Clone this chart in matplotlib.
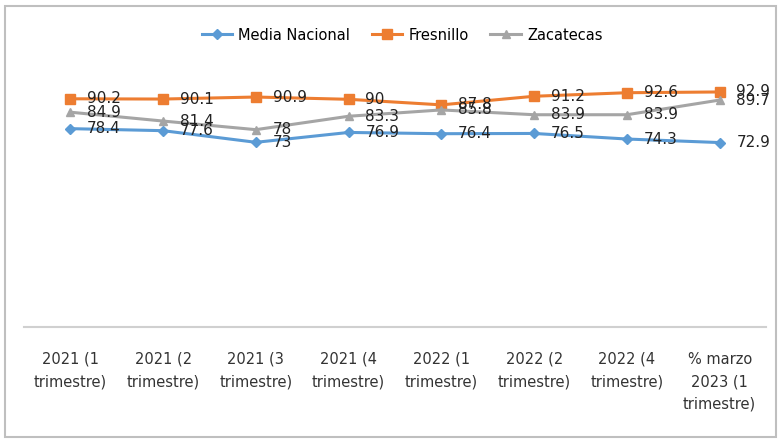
import matplotlib
matplotlib.use('Agg')
import matplotlib.pyplot as plt
from matplotlib.patches import Rectangle

plt.rcParams['font.family'] = ['Liberation Sans Narrow', 'DejaVu Sans']

categories = ['2021 (1\ntrimestre)', '2021 (2\ntrimestre)', '2021 (3\ntrimestre)',
              '2021 (4\ntrimestre)', '2022 (1\ntrimestre)', '2022 (2\ntrimestre)',
              '2022 (4\ntrimestre)', '% marzo\n2023 (1\ntrimestre)']
media_nacional = [78.4, 77.6, 73, 76.9, 76.4, 76.5, 74.3, 72.9]
fresnillo = [90.2, 90.1, 90.9, 90, 87.8, 91.2, 92.6, 92.9]
zacatecas = [84.9, 81.4, 78, 83.3, 85.8, 83.9, 83.9, 89.7]

series = [
    ('Media Nacional', media_nacional, '#5B9BD5', 'D', 5),
    ('Fresnillo', fresnillo, '#ED7D31', 's', 7),
    ('Zacatecas', zacatecas, '#A5A5A5', '^', 6),
]

fig = plt.figure(figsize=(7.78, 4.4), dpi=100)
ax = fig.add_axes([24 / 778, 1 - 327 / 440, 742 / 778, 253 / 440])
x = list(range(len(categories)))

for name, vals, col, mk, ms in series:
    ax.plot(x, vals, color=col, lw=2.2, marker=mk, ms=ms, label=name)
    for xi, v in zip(x, vals):
        ax.annotate(f'{v:g}', (xi, v), xytext=(12, 0), textcoords='offset points',
                    va='center', ha='left', fontsize=11, color='#222222')

ax.set_xlim(-0.5, len(categories) - 0.5)
ax.set_ylim(0, 100)
ax.set_yticks([])
ax.set_xticks(x)
ax.set_xticklabels(categories, fontsize=10.5, color='#333333', linespacing=1.6)
ax.tick_params(axis='x', length=0, pad=18)
for s in ['top', 'right', 'left']:
    ax.spines[s].set_visible(False)
ax.spines['bottom'].set_color('#D0D0D0')
ax.spines['bottom'].set_linewidth(1.5)

fig.legend(loc='center', bbox_to_anchor=(402 / 778, 1 - 35 / 440), ncol=3,
           frameon=False, fontsize=10.5, handlelength=2.1, columnspacing=1.5,
           handletextpad=0.4)

fig.patches.append(Rectangle((5 / 778, 3 / 440), 771 / 778, 431 / 440,
                             transform=fig.transFigure, fill=False,
                             edgecolor='#BFBFBF', lw=1.5))

fig.savefig('out.png', dpi=100)
